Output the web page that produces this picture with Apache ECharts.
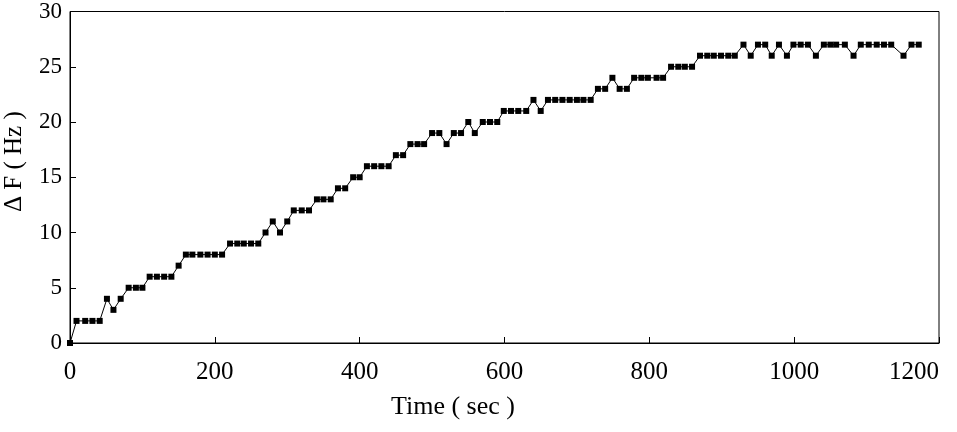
<!DOCTYPE html>
<html>
<head>
<meta charset="utf-8">
<script src="https://cdn.jsdelivr.net/npm/echarts@6/dist/echarts.min.js"></script>
<style>
html,body{margin:0;padding:0;background:#fff;}
#chart{width:957px;height:432px;}
</style>
</head>
<body>
<div id="chart"></div>
<script>
// Time (sec)
var times = [0, 9, 21, 31, 41, 51, 60, 70, 81, 91,
  100, 110, 120, 130, 140, 150, 160, 169, 180, 190,
  200, 210, 221, 231, 240, 250, 260, 270, 280, 290,
  300, 309, 320, 330, 341, 350, 360, 370, 380, 391,
  400, 410, 420, 430, 440, 450, 460, 470, 480, 489,
  500, 510, 520, 530, 540, 550, 559, 570, 580, 590,
  599, 609, 619, 630, 640, 650, 660, 670, 680, 690,
  700, 709, 719, 729, 739, 749, 759, 769, 779, 789,
  798, 810, 819, 830, 840, 849, 859, 870, 880, 889,
  899, 909, 918, 930, 940, 950, 960, 969, 979, 990,
  999, 1009, 1019, 1030, 1041, 1050, 1058, 1070, 1082, 1092,
  1103, 1114, 1124, 1134, 1151, 1162, 1172];
// Delta F (Hz)
var deltaF = [0, 2, 2, 2, 2, 4, 3, 4, 5, 5,
  5, 6, 6, 6, 6, 7, 8, 8, 8, 8,
  8, 8, 9, 9, 9, 9, 9, 10, 11, 10,
  11, 12, 12, 12, 13, 13, 13, 14, 14, 15,
  15, 16, 16, 16, 16, 17, 17, 18, 18, 18,
  19, 19, 18, 19, 19, 20, 19, 20, 20, 20,
  21, 21, 21, 21, 22, 21, 22, 22, 22, 22,
  22, 22, 22, 23, 23, 24, 23, 23, 24, 24,
  24, 24, 24, 25, 25, 25, 25, 26, 26, 26,
  26, 26, 26, 27, 26, 27, 27, 26, 27, 26,
  27, 27, 27, 26, 27, 27, 27, 27, 26, 27,
  27, 27, 27, 27, 26, 27, 27];
var xTicks = [0, 200, 400, 600, 800, 1000, 1200];
var yTicks = [0, 5, 10, 15, 20, 25, 30];
var xTitle = 'Time ( sec )';
var yTitle = 'Δ F ( Hz )';

var pts = times.map(function (t, i) { return [t, deltaF[i]]; });
var serif = '"Liberation Serif", "DejaVu Serif", serif';

var chart = echarts.init(document.getElementById('chart'));
chart.setOption({
  animation: false,
  backgroundColor: '#fff',
  grid: {
    left: 70, top: 11, right: 18, bottom: 89,
    show: true, borderColor: '#000', borderWidth: 1, backgroundColor: 'transparent'
  },
  xAxis: {
    type: 'value',
    min: xTicks[0], max: xTicks[xTicks.length - 1], interval: 200,
    axisLine: { show: true, lineStyle: { color: '#000', width: 1 } },
    axisTick: { show: true, inside: true, length: 6, lineStyle: { color: '#000' } },
    axisLabel: {
      color: '#000', fontFamily: serif, fontSize: 25, margin: 17,
      alignMaxLabel: 'right',
      formatter: function (v) { return String(v); }
    },
    splitLine: { show: false }
  },
  yAxis: {
    type: 'value',
    min: yTicks[0], max: yTicks[yTicks.length - 1], interval: 5,
    axisLine: { show: true, lineStyle: { color: '#000', width: 1 } },
    axisTick: { show: true, inside: true, length: 6, lineStyle: { color: '#000' } },
    axisLabel: { color: '#000', fontFamily: serif, fontSize: 23, margin: 8 },
    splitLine: { show: false }
  },
  graphic: [
    {
      type: 'text', left: 391, top: 394,
      style: { text: xTitle, fill: '#000', font: '26px ' + serif }
    },
    {
      type: 'text', x: 2, y: 212, rotation: Math.PI / 2,
      style: { text: yTitle, fill: '#000', font: '25px ' + serif }
    }
  ],
  series: [{
    type: 'line',
    data: pts,
    symbol: 'rect',
    symbolSize: 6,
    showAllSymbol: true,
    lineStyle: { color: '#000', width: 1 },
    itemStyle: { color: '#000' },
    clip: false
  }]
});
</script>
</body>
</html>
